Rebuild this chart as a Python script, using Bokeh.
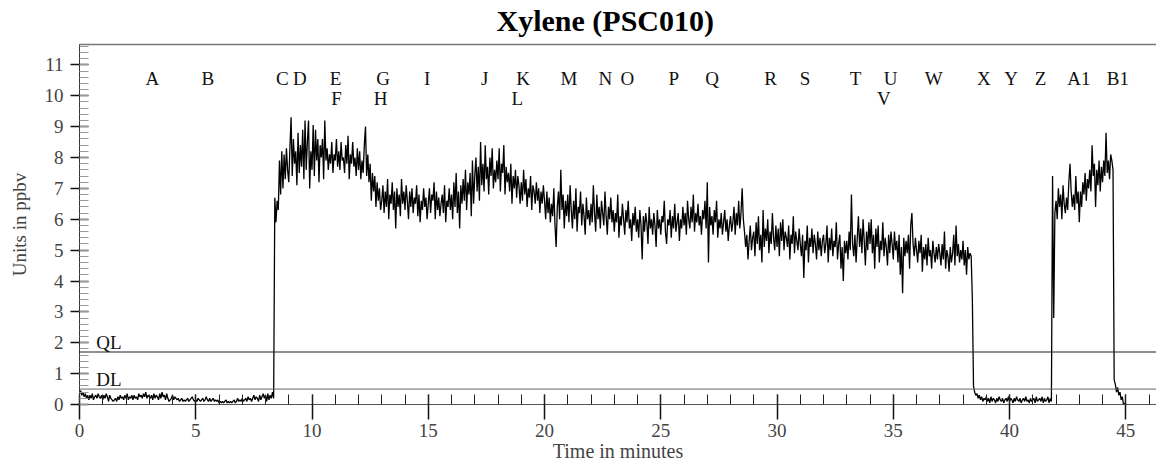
import numpy as np
from bokeh.plotting import figure
from bokeh.models import FixedTicker, Span, ColumnDataSource, LinearAxis
from bokeh.core.properties import value
from bokeh.embed import file_html
from bokeh.resources import INLINE

TITLE = "Xylene (PSC010)"
X_LABEL = "Time in minutes"
Y_LABEL = "Units in ppbv"
time_step_min = 0.05

# readings (ppbv), one every 0.05 min
ppbv_00_09 = [
    0.35,0.45,0.3,0.4,0.25,0.35,0.2,0.3,0.15,0.3,0.2,0.35,0.15,0.25,0.3,0.2,0.35,0.25,0.2,0.3,
    0.15,0.3,0.2,0.35,0.25,0.1,0.3,0.2,0.15,0.1,0.15,0.2,0.1,0.25,0.15,0.3,0.2,0.25,0.15,0.3,
    0.2,0.35,0.15,0.25,0.2,0.3,0.15,0.3,0.2,0.25,0.15,0.35,0.25,0.3,0.2,0.35,0.25,0.4,0.2,0.3,
    0.25,0.2,0.3,0.15,0.35,0.2,0.3,0.25,0.15,0.35,0.2,0.4,0.25,0.3,0.15,0.35,0.2,0.1,0.15,0.2,
    0.3,0.15,0.25,0.2,0.15,0.2,0.1,0.15,0.2,0.1,0.15,0.1,0.15,0.2,0.1,0.15,0.2,0.25,0.15,0.1,
    0.15,0.1,0.2,0.15,0.1,0.15,0.2,0.1,0.15,0.25,0.15,0.1,0.2,0.1,0.15,0.2,0.1,0.15,0.1,0.15,
    0.05,0.1,0.05,0.1,0.05,0.1,0.15,0.05,0.1,0.05,0.1,0.05,0.1,0.15,0.05,0.1,0.2,0.1,0.15,0.1,
    0.2,0.1,0.15,0.2,0.1,0.25,0.15,0.2,0.1,0.2,0.3,0.15,0.25,0.2,0.1,0.3,0.15,0.25,0.35,0.2,
    0.3,0.1,0.35,0.15,0.3,0.2,0.4,0.2,6.7,5.9,6.6,6.3,7.9,6.8,8.2,7.0,8.1,7.3,8.3,7.6,
]
ppbv_09_18 = [
    7.2,8.3,9.3,7.4,8.6,7.8,8.2,7.1,8.8,7.5,8.4,7.7,8.9,7.3,9.2,7.6,8.5,9.2,7.0,8.2,
    7.6,9.05,7.4,8.9,7.9,8.6,7.2,8.4,8.0,8.6,7.3,9.2,7.9,8.3,7.6,8.1,7.8,8.5,7.5,8.1,
    7.9,8.6,7.7,8.2,7.6,8.5,7.9,8.0,7.5,8.4,7.8,8.7,7.3,8.1,7.8,8.5,7.7,8.0,7.4,8.3,
    7.6,8.2,7.3,7.9,7.5,8.4,9.0,7.4,8.1,7.2,7.8,6.6,7.5,6.9,7.4,6.4,7.2,6.6,7.0,6.3,
    6.6,7.1,6.2,6.9,6.4,7.3,6.0,6.8,6.5,7.2,6.3,6.9,5.7,7.0,6.4,6.8,6.1,7.3,6.5,6.9,
    6.3,7.1,6.6,6.0,6.9,6.4,7.0,6.2,6.7,6.5,7.1,6.1,6.8,5.9,6.6,6.3,7.0,6.4,6.7,6.0,
    6.5,7.0,6.2,6.8,6.6,7.2,6.0,6.9,6.3,6.7,6.1,6.5,6.8,6.2,7.1,5.9,6.6,6.4,7.0,6.3,
    6.8,6.0,7.2,6.4,7.5,6.2,6.9,5.7,7.1,6.5,7.3,6.6,7.6,6.3,7.2,6.8,7.5,6.1,7.9,6.5,
    7.4,8.0,6.9,7.7,6.6,8.5,7.1,7.8,6.9,8.4,7.3,7.7,6.8,8.0,7.4,8.3,7.0,7.6,7.2,7.9,
]
ppbv_18_27 = [
    7.3,8.3,6.9,7.8,7.5,8.4,6.8,7.7,7.2,7.5,6.9,7.8,6.5,7.4,7.0,7.6,6.7,7.4,7.1,6.5,
    7.2,6.6,7.6,6.8,7.3,6.4,7.0,6.7,7.4,6.3,7.1,6.9,6.5,7.2,6.6,7.0,6.2,6.9,6.5,7.1,
    6.6,6.0,6.9,6.2,6.7,5.9,6.5,6.1,7.0,5.8,5.1,6.4,6.9,6.0,7.6,6.3,6.8,5.7,6.6,6.1,
    6.8,5.9,7.1,6.3,5.7,6.6,6.0,7.0,5.6,6.4,6.2,6.9,5.8,6.5,6.1,5.5,6.7,6.0,6.3,5.8,
    6.5,5.9,7.1,6.2,5.6,6.8,6.0,6.4,5.7,6.6,6.2,5.8,6.9,6.1,5.5,6.4,6.0,6.7,5.9,6.3,
    5.6,6.2,5.9,6.8,5.4,6.1,5.8,6.5,6.0,5.5,6.3,5.9,6.6,5.7,6.0,5.3,6.2,5.8,6.4,5.6,
    6.0,5.4,6.3,5.8,4.7,6.1,5.6,6.2,5.9,5.2,6.4,5.7,6.0,5.5,6.2,5.8,5.1,6.3,5.7,6.0,
    5.5,6.1,5.9,6.6,5.6,5.2,6.0,5.8,6.3,5.4,6.1,5.7,6.5,5.6,5.9,6.2,5.3,6.0,5.7,6.4,
    5.8,6.2,5.5,6.6,6.0,5.7,6.4,5.9,6.8,5.6,6.2,5.9,6.5,5.8,6.1,5.5,6.3,6.0,6.6,5.7,
]
ppbv_27_36 = [
    7.2,4.6,6.4,5.8,6.1,5.5,6.3,5.9,6.6,5.4,6.0,5.7,6.2,5.5,5.9,6.3,5.6,6.0,5.3,5.8,
    6.1,5.6,5.9,6.4,5.5,6.2,5.8,6.6,5.7,6.2,7.0,6.0,5.6,5.1,5.5,4.7,5.3,5.8,5.0,5.4,
    5.6,4.8,5.9,5.2,6.1,5.0,5.5,4.6,6.3,5.1,5.7,5.3,6.0,4.9,5.6,5.2,6.2,5.4,5.0,5.8,
    5.1,5.7,4.8,5.9,5.3,6.0,5.0,5.6,5.4,5.1,5.8,4.7,5.5,5.2,6.1,4.9,5.6,5.3,5.0,5.7,
    5.2,4.8,5.5,4.1,5.3,5.0,5.8,4.6,5.4,5.1,5.7,4.9,5.5,5.2,4.7,5.6,5.0,5.4,4.8,5.3,
    5.5,4.9,5.2,5.8,4.6,5.4,5.0,5.7,4.8,5.3,5.1,5.9,4.7,5.2,5.5,4.4,5.1,4.0,5.3,4.9,
    5.3,4.7,5.6,5.0,6.8,5.2,4.8,5.5,4.6,5.4,6.1,5.1,5.7,4.9,6.0,5.3,4.5,5.6,5.0,5.9,
    5.2,6.0,4.9,5.5,4.4,5.7,5.1,5.8,4.6,5.3,5.0,5.9,4.8,5.4,5.1,4.5,5.5,4.9,5.6,5.2,
    4.7,5.6,5.0,5.3,4.6,5.5,4.2,5.1,3.6,5.4,4.8,5.3,4.9,5.5,4.4,5.8,6.2,5.2,4.8,5.4,
]
ppbv_36_45 = [
    5.0,4.6,5.3,4.9,5.5,4.3,5.1,4.7,5.2,4.5,5.4,4.8,5.0,4.4,5.3,4.9,4.6,5.1,4.7,5.2,
    4.9,4.5,5.2,4.7,5.6,4.4,5.0,4.8,4.3,5.1,4.6,4.9,5.5,4.5,5.8,4.8,5.2,4.6,5.0,4.7,
    5.3,4.5,5.0,4.2,5.1,4.7,4.9,4.8,3.4,0.6,0.4,0.3,0.35,0.2,0.3,0.15,0.25,0.1,0.2,0.15,
    0.25,0.1,0.2,0.05,0.25,0.1,0.2,0.15,0.05,0.2,0.1,0.25,0.15,0.1,0.2,0.05,0.15,0.2,0.1,0.25,
    0.1,0.2,0.15,0.05,0.2,0.1,0.25,0.15,0.1,0.2,0.05,0.15,0.2,0.1,0.25,0.1,0.15,0.05,0.2,0.1,
    0.15,0.2,0.05,0.25,0.1,0.15,0.2,0.1,0.25,0.05,0.2,0.1,0.15,0.25,0.05,0.2,0.1,7.4,2.8,6.2,
    6.6,6.0,7.0,6.4,6.8,6.0,7.1,6.5,6.2,6.7,6.3,7.2,7.8,6.9,6.4,6.8,6.3,7.4,6.5,6.9,
    5.9,6.9,6.4,7.2,6.8,7.5,6.6,7.3,7.0,7.6,6.9,8.4,7.4,7.8,6.4,7.6,7.1,7.9,6.9,7.7,
    7.2,7.9,7.4,8.8,7.5,7.9,7.3,8.1,7.9,7.6,0.8,0.65,0.4,0.55,0.3,0.4,0.15,0.25,0.0,0.05,
]

QL_ppbv = 1.7
DL_ppbv = 0.5

event_row1 = ["A", "B", "C", "D", "E", "G", "I", "J", "K", "M", "N", "O", "P",
              "Q", "R", "S", "T", "U", "W", "X", "Y", "Z", "A1", "B1"]
event_row1_min = [3.13, 5.52, 8.72, 9.48, 11.01, 13.06, 14.95, 17.43, 19.08,
                  21.05, 22.62, 23.56, 25.56, 27.21, 29.72, 31.2, 33.38, 34.88,
                  36.74, 38.9, 40.07, 41.33, 42.98, 44.66]
event_row2 = ["F", "H", "L", "V"]
event_row2_min = [11.05, 12.95, 18.83, 34.59]

x_major_ticks = [0, 5, 10, 15, 20, 25, 30, 35, 40, 45]
y_major_ticks = [0, 1, 2, 3, 4, 5, 6, 7, 8, 9, 10, 11]

# ---------------------------------------------------------------
ppbv = ppbv_00_09 + ppbv_09_18 + ppbv_18_27 + ppbv_27_36 + ppbv_36_45
minutes = np.arange(len(ppbv)) * time_step_min

SERIF = "Liberation Serif"
X_END = 46.32
Y_END = 11.66

p = figure(width=1156, height=465, output_backend="svg", toolbar_location=None,
           x_range=(0, X_END), y_range=(0, Y_END),
           min_border_left=79, min_border_right=0, min_border_top=44,
           min_border_bottom=61)
p.outline_line_color = None
p.xgrid.visible = False
p.ygrid.visible = False
p.background_fill_color = "white"
p.border_fill_color = "white"

p.title.text = TITLE
p.title.align = "left"
p.title.offset = 417
p.title.text_font = SERIF
p.title.text_font_size = "30px"
p.title.text_font_style = "bold"
p.title.text_color = "black"
p.title.standoff = 0

xa = p.below[0]
xa.ticker = FixedTicker(ticks=x_major_ticks, minor_ticks=list(range(0, 47)))
xa.axis_label = X_LABEL
xa.axis_label_text_font = SERIF
xa.axis_label_text_font_size = "20px"
xa.axis_label_text_font_style = "normal"
xa.axis_label_standoff = 0
xa.major_label_text_font = SERIF
xa.major_label_text_font_size = "19px"
xa.major_label_standoff = 4
xa.major_tick_in = 10
xa.major_tick_out = 15
xa.minor_tick_in = 10
xa.minor_tick_out = 0
xa.axis_line_color = "#555555"
xa.major_tick_line_color = "#111111"
xa.minor_tick_line_color = "#222222"
xa.major_tick_line_width = 1.5

ya = p.left[0]
ya.ticker = FixedTicker(ticks=y_major_ticks,
                        minor_ticks=list(np.round(np.arange(0, 11.7, 0.2), 2)))
ya.axis_label = Y_LABEL
ya.axis_label_text_font = SERIF
ya.axis_label_text_font_size = "19px"
ya.axis_label_text_font_style = "normal"
ya.axis_label_standoff = 12
ya.major_label_text_font = SERIF
ya.major_label_text_font_size = "19px"
ya.major_label_standoff = 7
ya.major_tick_in = 9
ya.major_tick_out = 9
ya.minor_tick_in = 9
ya.minor_tick_out = 0
ya.axis_line_color = "#333333"
ya.major_tick_line_color = "#111111"
ya.minor_tick_line_color = "#999999"
ya.major_tick_line_width = 1.5

# top border as a bare axis (no ticks); a tiny blank label lifts the title a little
top_axis = LinearAxis(ticker=FixedTicker(ticks=[], minor_ticks=[]),
                      axis_line_color="#777777", axis_line_width=1.5,
                      major_tick_in=0, major_tick_out=0, minor_tick_in=0,
                      minor_tick_out=0, major_label_text_font_size="0px",
                      axis_label="\u00a0", axis_label_text_font_size="4px",
                      axis_label_standoff=0)
p.add_layout(top_axis, "above")

# QL / DL lines
p.add_layout(Span(location=QL_ppbv, dimension="width", line_color="#222222", line_width=1))
p.add_layout(Span(location=DL_ppbv, dimension="width", line_color="#666666", line_width=1))

p.text(x=[0.72, 0.72], y=[QL_ppbv + 0.3, DL_ppbv + 0.3], text=["QL", "DL"],
       text_font=value(SERIF), text_font_size="19px", text_align="left",
       text_baseline="middle", text_color="#111111")

src1 = ColumnDataSource(dict(x=event_row1_min, y=[10.57] * len(event_row1), t=event_row1))
src2 = ColumnDataSource(dict(x=event_row2_min, y=[9.92] * len(event_row2), t=event_row2))
for s in (src1, src2):
    p.text(x="x", y="y", text="t", source=s, text_font=value(SERIF),
           text_font_size="19px", text_align="center", text_baseline="middle",
           text_color="#111111")

p.line(minutes, ppbv, line_color="black", line_width=1.3)

open("out.html", "w").write(file_html(p, INLINE))
